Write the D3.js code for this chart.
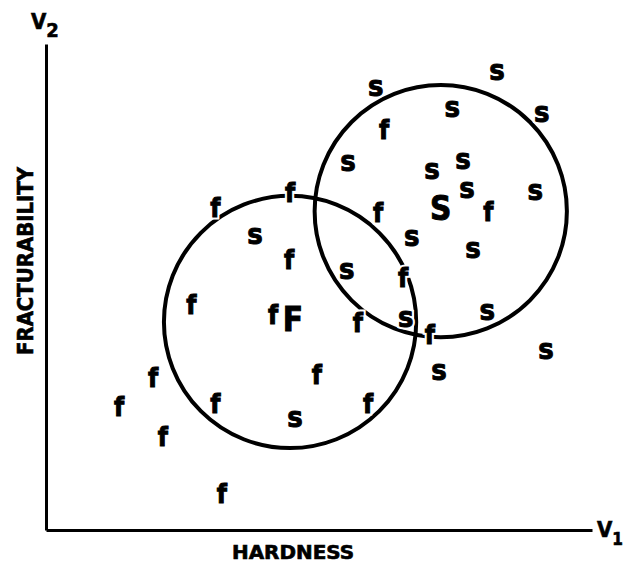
<!DOCTYPE html>
<html>
<head>
<meta charset="utf-8">
<script src="https://cdn.jsdelivr.net/npm/d3@7"></script>
<style>
  body { margin: 0; background: #fff; }
  text { font-family: "Liberation Sans Narrow", "DejaVu Sans Condensed", "Liberation Sans", sans-serif; font-weight: bold; fill: #000; }
</style>
</head>
<body>
<script>
  // samples of type s (soft) and f (firm), in V1 / V2 units (0-100)
  var sHard = [60.4, 82.6, 74.4, 90.8, 55.3, 70.7, 76.4, 77.1, 89.6, 67.0, 78.2, 38.3, 55.1, 65.9, 80.8, 91.6, 72.0, 45.6];
  var sFrac = [90.9, 94.2, 86.6, 85.6, 75.5, 73.7, 75.9, 69.8, 69.5, 59.9, 57.6, 60.3, 53.3, 43.4, 44.7, 36.8, 32.5, 22.8];

  var fHard = [61.9, 81.0, 60.8, 44.7, 31.0, 44.5, 65.4, 26.6, 41.6, 57.1, 70.3, 19.6, 49.6, 13.4, 31.0, 59.0, 21.4, 32.2];
  var fFrac = [82.3, 65.6, 65.4, 69.5, 66.3, 55.6, 51.9, 46.3, 44.4, 42.6, 40.1, 31.3, 31.9, 25.3, 25.9, 26.1, 19.3, 7.4];

  // group centres and their circles
  var groups = ["S", "F"];
  var centreHard = [72.3, 45.2];
  var centreFrac = [66.3, 43.4];
  var circleHard = [72.3, 44.7];
  var circleFrac = [65.6, 42.8];
  var circleRadius = [23.1, 23.1];

  var width = 628, height = 563;

  var svg = d3.select('body').append('svg')
    .attr('width', width)
    .attr('height', height);

  var x = d3.scaleLinear().domain([0, 100]).range([46, 592]);
  var y = d3.scaleLinear().domain([0, 100]).range([530, 44]);

  svg.append('g')
    .attr('transform', 'translate(0,' + y(0) + ')')
    .call(d3.axisBottom(x).ticks(0).tickSizeOuter(0))
    .select('.domain').attr('stroke-width', 3);

  svg.append('g')
    .attr('transform', 'translate(' + x(0) + ',0)')
    .call(d3.axisLeft(y).ticks(0).tickSizeOuter(0))
    .select('.domain').attr('stroke-width', 3);

  // circles
  svg.selectAll('circle')
    .data(groups)
    .enter()
    .append('circle')
      .attr('cx', function(d, i) { return x(circleHard[i]); })
      .attr('cy', function(d, i) { return y(circleFrac[i]); })
      .attr('r', function(d, i) { return x(circleRadius[i]) - x(0); })
      .attr('fill', 'none')
      .attr('stroke', '#000')
      .attr('stroke-width', 4);

  // white halo first (breaks the circle under a letter), then the letter itself
  function letters(cls, label, hx, fy, size, dy) {
    ['halo', 'ink'].forEach(function(layer) {
      svg.selectAll('text.' + cls + '.' + layer)
        .data(hx)
        .enter()
        .append('text')
          .attr('class', cls + ' ' + layer)
          .attr('x', function(d) { return x(d); })
          .attr('y', function(d, i) { return y(fy[i]); })
          .attr('dy', dy)
          .attr('text-anchor', 'middle')
          .attr('font-size', size)
          .attr('stroke', layer == 'halo' ? '#fff' : '#000')
          .attr('stroke-width', layer == 'halo' ? 5 : 0.9)
          .text(label);
    });
  }

  letters('s', 's', sHard, sFrac, 29, '0.26em');
  letters('f', 'f', fHard, fFrac, 26, '0.36em');
  letters('c', function(d, i) { return groups[i]; }, centreHard, centreFrac, 33, '0.36em');

  // axis names
  svg.append('text')
    .attr('x', 293).attr('y', 559)
    .attr('text-anchor', 'middle')
    .attr('font-size', 19)
    .attr('stroke', '#000').attr('stroke-width', 0.6)
    .attr('textLength', 122)
    .attr('lengthAdjust', 'spacingAndGlyphs')
    .text('HARDNESS');

  svg.append('text')
    .attr('transform', 'translate(33,261) rotate(-90)')
    .attr('text-anchor', 'middle')
    .attr('font-size', 21)
    .attr('stroke', '#000').attr('stroke-width', 0.6)
    .attr('textLength', 188)
    .attr('lengthAdjust', 'spacingAndGlyphs')
    .text('FRACTURABILITY');

  var v2 = svg.append('text').attr('x', 31).attr('y', 29).attr('font-size', 22)
    .attr('stroke', '#000').attr('stroke-width', 0.6);
  v2.append('tspan').text('V');
  v2.append('tspan').attr('dy', 8).attr('font-size', 20).text('2');

  var v1 = svg.append('text').attr('x', 597).attr('y', 537).attr('font-size', 22)
    .attr('stroke', '#000').attr('stroke-width', 0.6);
  v1.append('tspan').text('V');
  v1.append('tspan').attr('dy', 8).attr('font-size', 17).text('1');
</script>
</body>
</html>
